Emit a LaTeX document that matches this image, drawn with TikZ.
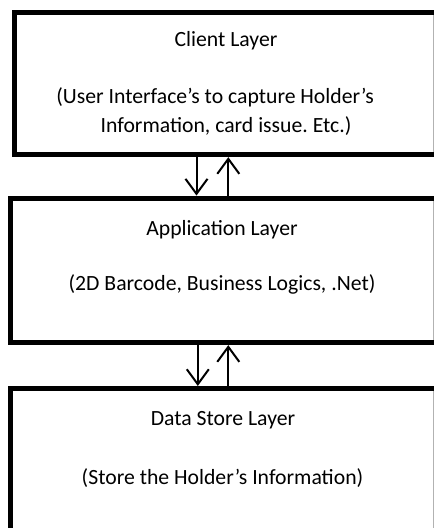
\documentclass[tikz,border=0pt]{standalone}
\usepackage{fontspec}
\setmainfont{Carlito}
\usetikzlibrary{arrows.meta}
\frenchspacing
\begin{document}
\begin{tikzpicture}[x=1pt,y=-1pt,
  layer/.style={draw=none, inner sep=0pt, outer sep=0pt},
  rim/.style={draw=black, line width=5.3pt},
  rimline/.style={draw=black!30, line width=1pt},
  txt/.style={anchor=base, inner sep=0pt, font=\fontsize{21.7}{26}\selectfont},
  flow/.style={line width=2pt, shorten <=2.65pt, shorten >=2.65pt,
    -{Straight Barb[length=15pt,width=22pt,line width=2pt]}}
]
\useasboundingbox (0,0) rectangle (434,528);
\clip (0,0) rectangle (434,528);

% the three layer boxes; their right side is cut by the page edge
\node[layer, minimum width=419.35pt, minimum height=141.75pt] (client) at (224.33,83.63) {};
\node[layer, minimum width=423.5pt,  minimum height=144.3pt]  (app)    at (222.25,270.35) {};
\node[layer, minimum width=423.5pt,  minimum height=139.4pt]  (data)   at (222.25,458.3) {};

\draw[rim] (client.north east) -- (client.north west) -- (client.south west) -- (client.south east);
\draw[rim] (app.north east) -- (app.north west) -- (app.south west) -- (app.south east);
\draw[rim] (data.north east) -- (data.north west) -- (data.south west);

% faint right-hand borders at the page edge
\draw[rimline] ([xshift=-0.5pt,yshift=-2.65pt]client.north east) -- ([xshift=-0.5pt,yshift=2.65pt]client.south east);
\draw[rimline] ([xshift=-0.5pt,yshift=-2.65pt]app.north east) -- ([xshift=-0.5pt,yshift=2.65pt]app.south east);
\draw[rimline] ([xshift=-0.5pt,yshift=-2.65pt]data.north east) -- ([xshift=-0.5pt]data.south east);

% labels
\node[txt] (clientT)  at (226,46.5)  {Client Layer};
\node[txt] (clientD1) at (215,103.5) {(User Interface’s to capture Holder’s};
\node[txt] (clientD2) at (226,132.5) {Information, card issue. Etc.)};
\node[txt] (appT)     at (222,235)   {Application Layer};
\node[txt] (appD)     at (222,290)   {(2D Barcode, Business Logics, .Net)};
\node[txt] (dataT)    at (223,425)   {Data Store Layer};
\node[txt] (dataD)    at (222.5,484) {(Store the Holder’s Information)};

% arrow columns
\coordinate (down1) at (196.5,0);
\coordinate (up1)   at (228.3,0);
\coordinate (down2) at (197.8,0);
\coordinate (up2)   at (228.3,0);

% two-way flow between neighbouring layers
\draw[flow] (client.south -| down1) -- (app.north -| down1);
\draw[flow] (app.north -| up1) -- (client.south -| up1);
\draw[flow] (app.south -| down2) -- (data.north -| down2);
\draw[flow] (data.north -| up2) -- (app.south -| up2);
\end{tikzpicture}
\end{document}
